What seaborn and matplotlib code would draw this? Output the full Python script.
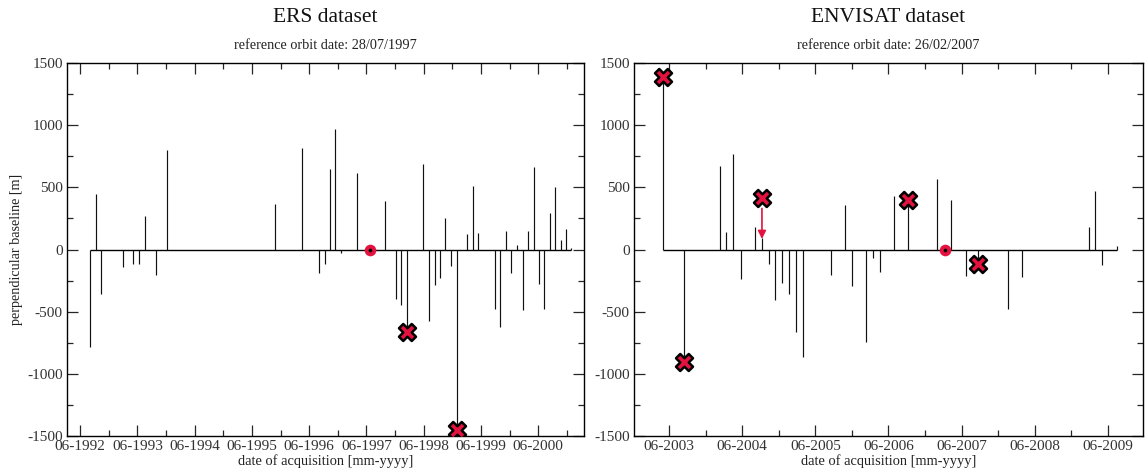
import numpy as np
import matplotlib
matplotlib.use("Agg")
import matplotlib.pyplot as plt
import seaborn as sns
from matplotlib.ticker import FixedLocator, MultipleLocator

sns.set_style("ticks")
plt.rcParams['font.family'] = ['Liberation Serif', 'DejaVu Serif']
plt.rcParams['axes.unicode_minus'] = False

# ERS: acquisition dates (decimal years) and perpendicular baselines [m]
ers_dates = [1992.67, 1992.77, 1992.86, 1993.24, 1993.43, 1993.53, 1993.63, 1993.83,
             1994.02, 1995.91, 1996.38, 1996.67, 1996.77, 1996.87, 1996.96, 1997.05,
             1997.34, 1997.57, 1997.83, 1998.01, 1998.11, 1998.21, 1998.49, 1998.60,
             1998.70, 1998.79, 1998.88, 1998.98, 1999.08, 1999.26, 1999.36, 1999.45,
             1999.75, 1999.84, 1999.94, 2000.03, 2000.13, 2000.23, 2000.32, 2000.42,
             2000.52, 2000.61, 2000.71, 2000.80, 2000.90, 2000.99, 2001.07]
ers_bperp = [-785, 445, -360, -140, -118, -113, 272, -202,
             797, 365, 819, -188, -113, 645, 973, -27,
             619, 0, 390, -400, -450, -665, 685, -576,
             -289, -233, 256, -136, -1450, 126, 513, 131,
             -475, -624, 147, -190, 40, -483, 147, 660,
             -275, -475, 291, 505, 80, 168, 10]
ers_ref = (1997.57, 0)
ers_x_dates = [1998.21, 1999.08]
ers_x_bperp = [-665, -1450]

# ENVISAT
env_dates = [2003.42, 2003.71, 2004.19, 2004.28, 2004.38, 2004.48, 2004.67, 2004.77,
             2004.86, 2004.95, 2005.05, 2005.14, 2005.24, 2005.33, 2005.71, 2005.90,
             2006.00, 2006.19, 2006.29, 2006.38, 2006.58, 2006.77, 2007.16, 2007.27,
             2007.35, 2007.56, 2007.73, 2008.13, 2008.32, 2009.24, 2009.33, 2009.42,
             2009.62]
env_bperp = [1385, -903, 670, 140, 770, -235, 180, 90,
             -115, -402, -268, -355, -663, -864, -208, 355,
             -295, -741, -66, -182, 432, 400, 565, 0,
             397, -212, -113, -482, -220, 179, 472, -121,
             25]
env_ref = (2007.27, 0)
env_x_dates = [2003.42, 2003.71, 2004.77, 2006.77, 2007.73]
env_x_bperp = [1385, -903, 412, 400, -113]
env_arrow = (2004.77, 330, 85)  # date, from, to

panels = [
    dict(title="ERS dataset", sub="reference orbit date: 28/07/1997",
         dates=ers_dates, bperp=ers_bperp, ref=ers_ref,
         xd=ers_x_dates, xb=ers_x_bperp, years=range(1992, 2001),
         xlim=(1992.27, 2001.30), rect=[0.0585, 0.0723, 0.4515, 0.7936]),
    dict(title="ENVISAT dataset", sub="reference orbit date: 26/02/2007",
         dates=env_dates, bperp=env_bperp, ref=env_ref,
         xd=env_x_dates, xb=env_x_bperp, years=range(2003, 2010),
         xlim=(2003.02, 2009.98), rect=[0.5537, 0.0723, 0.4445, 0.7936]),
]

red = '#e3123f'
fig = plt.figure(figsize=(11.45, 4.70), dpi=100)

for i, p in enumerate(panels):
    ax = fig.add_axes(p['rect'])
    d = np.array(p['dates'])
    b = np.array(p['bperp'])
    ax.hlines(0, d.min(), d.max(), color='black', lw=1.0, zorder=2)
    ax.vlines(d, 0, b, color='#111111', lw=0.85, zorder=2)
    sns.scatterplot(x=p['xd'], y=p['xb'], marker='X', s=150, color=red,
                    edgecolor='black', linewidth=1.8, ax=ax, zorder=5, legend=False)
    sns.scatterplot(x=[p['ref'][0]], y=[p['ref'][1]], marker='o', s=70, color=red,
                    edgecolor=red, linewidth=0, ax=ax, zorder=5, legend=False)
    sns.scatterplot(x=[p['ref'][0]], y=[p['ref'][1]], marker='o', s=7, color='black',
                    edgecolor='black', linewidth=0, ax=ax, zorder=6, legend=False)
    if i == 1:
        ad, a0, a1 = env_arrow
        ax.annotate('', xy=(ad, a1), xytext=(ad, a0),
                    arrowprops=dict(arrowstyle='-|>', color=red, lw=1.2,
                                    mutation_scale=12, shrinkA=0, shrinkB=0),
                    zorder=4)

    ax.set_xlim(*p['xlim'])
    ax.set_ylim(-1500, 1500)
    yrs = list(p['years'])
    ax.xaxis.set_major_locator(FixedLocator([y + 0.5 for y in yrs]))
    ax.set_xticklabels([f"06-{y}" for y in yrs])
    ax.xaxis.set_minor_locator(FixedLocator([y + 1.0 for y in yrs] + [yrs[0]]))
    ax.yaxis.set_major_locator(MultipleLocator(500))
    ax.yaxis.set_minor_locator(MultipleLocator(250))
    ax.tick_params(which='both', direction='in', top=True, right=True,
                   labelsize=11, labelcolor='#333333', width=0.9)
    ax.tick_params(which='major', length=8, pad=3)
    ax.tick_params(which='minor', length=4)
    for s in ax.spines.values():
        s.set_linewidth(1.0)
        s.set_color('black')
    ax.set_xlabel("date of acquisition [mm-yyyy]", fontsize=10.4, color='#222222', labelpad=1)
    if i == 0:
        ax.set_ylabel("perpendicular baseline [m]", fontsize=10.2, color='#222222', labelpad=3)
    ax.text(0.5, 1.123, p['title'], transform=ax.transAxes, ha='center', va='center',
            fontsize=15.5, color='#111111')
    ax.text(0.5, 1.046, p['sub'], transform=ax.transAxes, ha='center', va='center',
            fontsize=10.3, color='#222222')

fig.savefig("out.png", dpi=100)
